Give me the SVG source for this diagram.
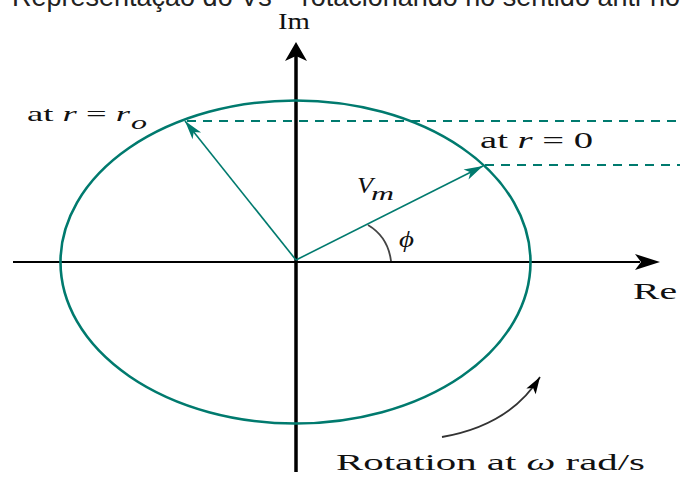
<svg xmlns="http://www.w3.org/2000/svg" width="680" height="478" viewBox="0 0 680 478">
<style>
.teal{stroke:#007a6e;fill:none}
.serif{font-family:"Liberation Serif","DejaVu Serif",serif;fill:#111}
.it{font-style:italic}
</style>
<defs>
<marker id="ht" markerUnits="userSpaceOnUse" markerWidth="24" markerHeight="14" viewBox="-20 -7 22 14" refX="0" refY="0" orient="auto">
<path d="M0,0 L-19,-5.5 L-14,0 L-19,5.5 Z" fill="#007a6e"/>
</marker>
<marker id="hb" markerUnits="userSpaceOnUse" markerWidth="24" markerHeight="14" viewBox="-20 -7 22 14" refX="0" refY="0" orient="auto">
<path d="M0,0 L-17,-5.5 L-13,0 L-17,5.5 Z" fill="#000"/>
</marker>
</defs>
<rect width="680" height="478" fill="#fff"/>
<text x="12" y="6" font-family="'Liberation Sans',Arial,sans-serif" font-size="27" fill="#222">Representação do Vs – rotacionando no sentido anti-horário</text>

<g id="axes">
<line x1="13" y1="262" x2="640" y2="262" stroke="#000" stroke-width="2.2"/>
<polygon points="660,262 635,254 641,262 635,270" fill="#000"/>
<line x1="296" y1="472" x2="296" y2="55" stroke="#000" stroke-width="3.5"/>
<polygon points="296,42 285,61 296,56 307,61" fill="#000"/>
</g>

<g id="circle">
<ellipse cx="295.5" cy="262" rx="235" ry="161.5" class="teal" stroke-width="2.6"/>
</g>

<g id="connectors">
<line x1="296" y1="260" x2="185" y2="121" class="teal" stroke-width="1.6" marker-end="url(#ht)"/>
<line x1="296" y1="260" x2="483" y2="166" class="teal" stroke-width="1.6" marker-end="url(#ht)"/>
<line x1="187" y1="121" x2="680" y2="121" class="teal" stroke-width="2" stroke-dasharray="9 7"/>
<line x1="485" y1="165" x2="680" y2="165" class="teal" stroke-width="2" stroke-dasharray="9 7"/>
<path d="M368,225 Q388,237 391,261" fill="none" stroke="#444" stroke-width="1.8"/>
<path d="M442,437 Q510,425 540,377" fill="none" stroke="#333" stroke-width="1.8" marker-end="url(#hb)"/>
</g>

<g id="labels">
<text class="serif" x="278" y="29" font-size="23" textLength="32" lengthAdjust="spacingAndGlyphs">Im</text>
<text class="serif" x="633" y="299" font-size="24" textLength="44" lengthAdjust="spacingAndGlyphs">Re</text>
<text class="serif" x="27" y="121" font-size="22" textLength="103" lengthAdjust="spacingAndGlyphs">at <tspan class="it">r</tspan> = <tspan class="it">r</tspan></text>
<text class="serif it" x="131" y="129" font-size="19" textLength="16" lengthAdjust="spacingAndGlyphs">o</text>
<text class="serif" x="480" y="148" font-size="24" textLength="113" lengthAdjust="spacingAndGlyphs">at <tspan class="it">r</tspan> = 0</text>
<text class="serif it" x="357" y="193" font-size="24" textLength="16" lengthAdjust="spacingAndGlyphs">V</text>
<text class="serif it" x="371" y="200" font-size="18" textLength="23" lengthAdjust="spacingAndGlyphs">m</text>
<text class="serif it" x="399" y="247" font-size="24" textLength="15" lengthAdjust="spacingAndGlyphs">ϕ</text>
<text class="serif" x="336" y="470" font-size="24" textLength="309" lengthAdjust="spacingAndGlyphs">Rotation at <tspan class="it">ω</tspan> rad/s</text>
</g>
</svg>
